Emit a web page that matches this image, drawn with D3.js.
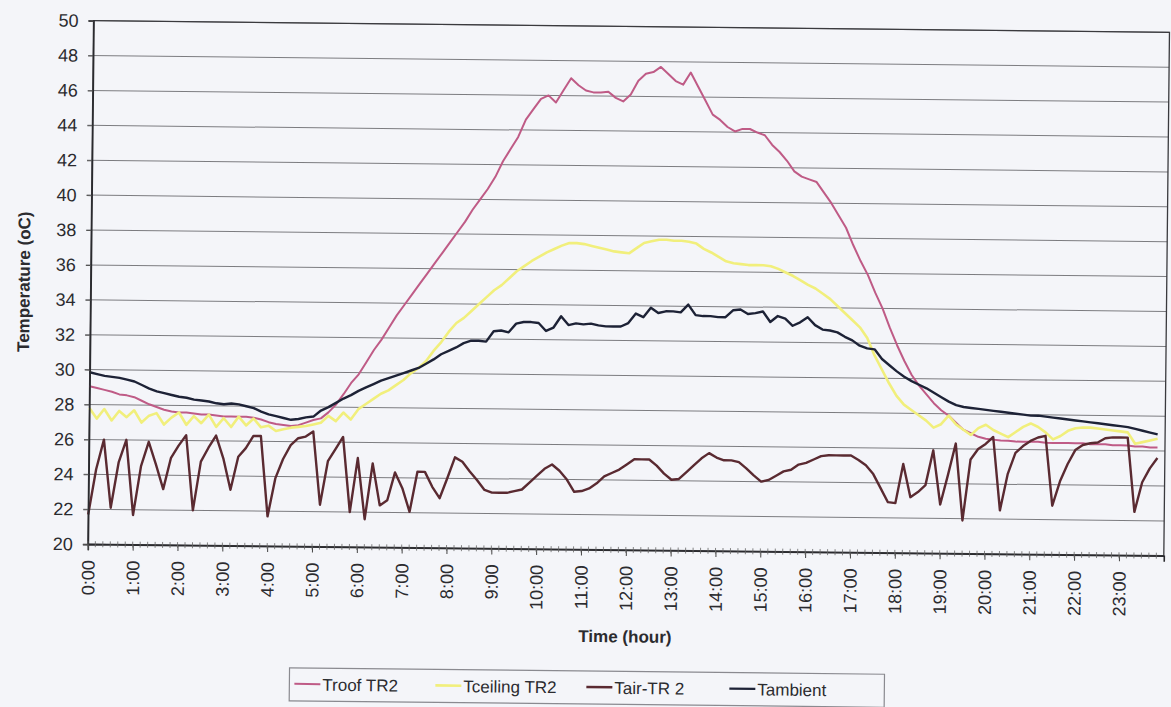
<!DOCTYPE html>
<html>
<head>
<meta charset="utf-8">
<script src="https://cdn.jsdelivr.net/npm/d3@7"></script>
<style>
  body { margin: 0; background: #f4f5f9; }
  svg { display: block; font-family: "Liberation Sans", Arial, sans-serif; }
</style>
</head>
<body>
<svg id="chart" width="1171" height="707"></svg>
<script>
// hour labels on the category axis
var hourLabels = ['0:00','1:00','2:00','3:00','4:00','5:00','6:00','7:00','8:00','9:00','10:00','11:00',
  '12:00','13:00','14:00','15:00','16:00','17:00','18:00','19:00','20:00','21:00','22:00','23:00'];

var seriesNames = ['Troof TR2', 'Tceiling TR2', 'Tair-TR 2', 'Tambient'];

// readings every 10 minutes, one row per hour
var tRoof = [
  29.05, 28.95, 28.85, 28.75, 28.6, 28.55,
  28.45, 28.25, 28.05, 27.9, 27.75, 27.65,
  27.6, 27.6, 27.55, 27.5, 27.5, 27.45,
  27.4, 27.4, 27.4, 27.4, 27.35, 27.25,
  27.1, 27.0, 26.95, 26.9, 26.95, 27.1,
  27.25, 27.35, 27.7, 28.15, 28.75, 29.4,
  29.9, 30.6, 31.3, 31.9, 32.6, 33.3,
  33.9, 34.5, 35.1, 35.7, 36.3, 36.9,
  37.5, 38.1, 38.7, 39.4, 40.0, 40.6,
  41.3, 42.2, 42.9, 43.6, 44.6, 45.2,
  45.8, 46.0, 45.6, 46.3, 47.0, 46.6,
  46.3, 46.2, 46.2, 46.25, 45.9, 45.7,
  46.1, 46.9, 47.3, 47.4, 47.7, 47.3,
  46.9, 46.7, 47.4, 46.6, 45.8, 45.0,
  44.7, 44.3, 44.05, 44.2, 44.2, 44.0,
  43.85, 43.3, 42.9, 42.4, 41.8, 41.5,
  41.35, 41.2, 40.6, 40.0, 39.3, 38.6,
  37.6, 36.7, 35.9, 34.9, 34.0, 32.9,
  31.9, 31.0, 30.2, 29.6, 29.1, 28.6,
  28.2, 27.9, 27.5, 27.1, 26.9, 26.7,
  26.6, 26.55, 26.5, 26.5, 26.45, 26.45,
  26.45, 26.45, 26.4, 26.4, 26.4, 26.4,
  26.4, 26.4, 26.35, 26.35, 26.35, 26.3,
  26.3, 26.3, 26.25, 26.25, 26.2, 26.2
];

var tCeiling = [
  27.8, 27.2, 27.75, 27.1, 27.65, 27.3,
  27.7, 27.0, 27.4, 27.55, 26.9, 27.3,
  27.6, 26.9, 27.4, 27.0, 27.5, 26.8,
  27.3, 26.8, 27.4, 26.9, 27.3, 26.8,
  26.9, 26.6, 26.7, 26.8, 26.85, 26.9,
  27.0, 27.1, 27.5, 27.2, 27.7, 27.3,
  27.9, 28.2, 28.5, 28.8, 29.0, 29.3,
  29.6, 30.0, 30.3, 30.7, 31.3, 31.8,
  32.4, 32.9, 33.2, 33.6, 34.0, 34.4,
  34.8, 35.1, 35.5, 35.9, 36.2, 36.5,
  36.75, 37.0, 37.2, 37.4, 37.55, 37.55,
  37.5, 37.4, 37.3, 37.2, 37.1, 37.05,
  37.0, 37.3, 37.6, 37.7, 37.8, 37.8,
  37.75, 37.75, 37.7, 37.6, 37.3, 37.1,
  36.85, 36.6, 36.5, 36.45, 36.4, 36.4,
  36.4, 36.35, 36.2, 36.0, 35.8, 35.55,
  35.3, 35.1, 34.8, 34.5, 34.1, 33.7,
  33.3, 32.9, 32.3, 31.3, 30.5, 29.7,
  29.0, 28.5, 28.2, 27.9, 27.6, 27.2,
  27.4, 27.9, 27.4, 27.1, 26.8, 27.2,
  27.4, 27.1, 26.9, 26.7, 27.0, 27.3,
  27.5, 27.3, 27.0, 26.6, 26.8, 27.1,
  27.25, 27.3, 27.3, 27.25, 27.2, 27.15,
  27.1, 27.05, 26.4, 26.5, 26.6, 26.7
];

var tAir = [
  21.7, 24.3, 26.0, 22.1, 24.7, 26.0,
  21.7, 24.5, 25.9, 24.6, 23.2, 25.0,
  25.7, 26.3, 22.0, 24.8, 25.6, 26.3,
  25.0, 23.2, 25.1, 25.6, 26.3, 26.3,
  21.7, 23.9, 25.0, 25.8, 26.2, 26.3,
  26.6, 22.4, 24.9, 25.6, 26.3, 22.0,
  25.1, 21.6, 24.8, 22.4, 22.7, 24.3,
  23.4, 22.05, 24.35, 24.35, 23.5, 22.85,
  24.0, 25.2, 24.95, 24.4, 23.9, 23.35,
  23.2, 23.2, 23.2, 23.3, 23.4, 23.8,
  24.2, 24.6, 24.85, 24.5, 24.0, 23.3,
  23.35, 23.5, 23.8, 24.2, 24.4, 24.6,
  24.9, 25.2, 25.2, 25.2, 24.85, 24.4,
  24.05, 24.1, 24.5, 24.9, 25.3, 25.6,
  25.35, 25.2, 25.2, 25.1, 24.75, 24.35,
  24.0, 24.1, 24.35, 24.6, 24.7, 25.0,
  25.1, 25.3, 25.5, 25.55, 25.55, 25.55,
  25.55, 25.3, 25.0, 24.5, 23.7, 22.9,
  22.85, 25.1, 23.2, 23.5, 23.9, 25.9,
  22.8, 24.5, 26.3, 21.9, 25.4, 26.0,
  26.3, 26.7, 22.5, 24.6, 25.8, 26.2,
  26.5, 26.7, 26.8, 22.8, 24.2, 25.2,
  26.0, 26.3, 26.4, 26.45, 26.7, 26.75,
  26.75, 26.75, 22.5, 24.2, 25.0, 25.6
];

var tAmbient = [
  29.85, 29.75, 29.65, 29.6, 29.55, 29.45,
  29.35, 29.15, 28.95, 28.8, 28.7, 28.6,
  28.5, 28.45, 28.35, 28.3, 28.25, 28.15,
  28.1, 28.15, 28.1, 28.0, 27.9, 27.7,
  27.55, 27.45, 27.35, 27.25, 27.3, 27.4,
  27.45, 27.8, 28.0, 28.25, 28.5, 28.7,
  28.95, 29.15, 29.35, 29.55, 29.7, 29.85,
  30.0, 30.15, 30.3, 30.55, 30.8, 31.1,
  31.3, 31.5, 31.75, 31.9, 31.9, 31.85,
  32.45, 32.5, 32.4, 32.9, 33.0, 33.0,
  32.95, 32.5, 32.7, 33.35, 32.85, 32.95,
  32.9, 32.95, 32.85, 32.8, 32.8, 32.8,
  33.0, 33.55, 33.35, 33.9, 33.6, 33.7,
  33.7, 33.65, 34.1, 33.5, 33.45, 33.45,
  33.4, 33.4, 33.8, 33.85, 33.6, 33.65,
  33.75, 33.15, 33.5, 33.35, 32.95, 33.15,
  33.45, 33.0, 32.75, 32.7, 32.6, 32.35,
  32.15, 31.85, 31.7, 31.65, 31.1, 30.75,
  30.4, 30.1, 29.85, 29.65, 29.45, 29.2,
  28.95, 28.7, 28.5, 28.4, 28.35, 28.3,
  28.25, 28.2, 28.15, 28.1, 28.05, 28.0,
  27.95, 27.95, 27.9, 27.85, 27.8, 27.75,
  27.7, 27.65, 27.6, 27.55, 27.5, 27.45,
  27.4, 27.35, 27.25, 27.15, 27.05, 26.95
];

var yTicks = [20, 22, 24, 26, 28, 30, 32, 34, 36, 38, 40, 42, 44, 46, 48, 50];

// BOUNDS (not named top/left: window.top is read only)
var plotLeft = 90, plotRight = 1166, plotTop = 26, plotBottom = 549.5;

// SCALE (x in hours, one sample every 10 minutes)
var xScale = d3.scaleLinear().domain([0, 24]).range([plotLeft, plotRight]);
var yScale = d3.scaleLinear().domain([20, 50]).range([plotBottom, plotTop]);

var series = [
  {name: seriesNames[0], values: tRoof, color: '#bf5b86', width: 2},
  {name: seriesNames[1], values: tCeiling, color: '#f1ef7c', width: 2.6},
  {name: seriesNames[2], values: tAir, color: '#5a2a31', width: 2.4},
  {name: seriesNames[3], values: tAmbient, color: '#1d2236', width: 2.4}
];

var svg = d3.select('#chart');
// the scan is tilted a little, so the whole chart is turned with it
var chart = svg.append('g').attr('transform', 'rotate(0.62, 585, 350)');

// grid lines
chart.append('g')
  .selectAll('line')
  .data(yTicks.slice(1))
  .enter().append('line')
  .attr('x1', plotLeft - 5).attr('x2', plotRight)
  .attr('y1', function(d) { return yScale(d); })
  .attr('y2', function(d) { return yScale(d); })
  .attr('stroke', '#7c7c80').attr('stroke-width', 1);

// frame
chart.append('rect')
  .attr('x', plotLeft).attr('y', plotTop)
  .attr('width', plotRight - plotLeft).attr('height', plotBottom - plotTop)
  .attr('fill', 'none').attr('stroke', '#3a3a3e').attr('stroke-width', 1.3);

// LINES
var line = d3.line()
  .x(function(d, i) { return xScale(i / 6); })
  .y(function(d) { return yScale(d); });

series.forEach(function(s) {
  chart.append('path')
    .attr('d', line(s.values))
    .attr('fill', 'none')
    .attr('stroke', s.color)
    .attr('stroke-width', s.width)
    .attr('stroke-linejoin', 'round');
});

// Y AXIS
var yAxis = d3.axisLeft(yScale).tickValues(yTicks).tickSize(5).tickPadding(10);
var yG = chart.append('g').attr('transform', 'translate(' + plotLeft + ',0)').call(yAxis);
yG.select('.domain').attr('stroke', '#2a2a2e').attr('stroke-width', 1.6);
yG.selectAll('.tick line').attr('stroke', '#555');
yG.selectAll('text').attr('font-size', 18).attr('fill', '#2b2b2f')
  .attr('font-family', '"Liberation Sans", Arial, sans-serif');

// X AXIS
var xAxis = d3.axisBottom(xScale)
  .tickValues(d3.range(hourLabels.length))
  .tickFormat(function(d) { return hourLabels[d]; })
  .tickSize(6);
var xG = chart.append('g').attr('transform', 'translate(0,' + plotBottom + ')').call(xAxis);
xG.select('.domain').attr('stroke', '#2a2a2e').attr('stroke-width', 1.6);
xG.selectAll('.tick line').attr('stroke', '#444');
xG.selectAll('text')
  .attr('font-size', 18).attr('fill', '#2b2b2f')
  .attr('font-family', '"Liberation Sans", Arial, sans-serif')
  .attr('transform', 'rotate(-90)')
  .attr('x', -16).attr('y', 0).attr('dy', '0.35em')
  .style('text-anchor', 'end');

// small category ticks, one per sample
chart.append('g')
  .selectAll('line')
  .data(tAir)
  .enter().append('line')
  .attr('x1', function(d, i) { return xScale(i / 6); })
  .attr('x2', function(d, i) { return xScale(i / 6); })
  .attr('y1', plotBottom - 3).attr('y2', plotBottom + 3)
  .attr('stroke', '#666').attr('stroke-width', 0.8);

// axis titles
chart.append('text')
  .attr('transform', 'translate(29,' + ((plotTop + plotBottom) / 2) + ') rotate(-90)')
  .attr('text-anchor', 'middle')
  .attr('font-size', 17).attr('font-weight', 'bold').attr('fill', '#2b2b2f')
  .text('Temperature (oC)');

chart.append('text')
  .attr('x', (plotLeft + plotRight) / 2).attr('y', 642)
  .attr('text-anchor', 'middle')
  .attr('font-size', 17).attr('font-weight', 'bold').attr('fill', '#2b2b2f')
  .text('Time (hour)');

// LEGEND
var legend = chart.append('g').attr('transform', 'translate(293,671)');
legend.append('rect')
  .attr('width', 595).attr('height', 33)
  .attr('fill', 'none').attr('stroke', '#8a8a90').attr('stroke-width', 1.2);

var legendX = [5, 146, 297, 440];
series.forEach(function(s, i) {
  var item = legend.append('g').attr('transform', 'translate(' + legendX[i] + ',0)');
  item.append('line')
    .attr('x1', 0).attr('x2', 26).attr('y1', 16).attr('y2', 16)
    .attr('stroke', s.color).attr('stroke-width', s.width);
  item.append('text')
    .attr('x', 28).attr('y', 22.5)
    .attr('font-size', 17).attr('fill', '#2b2b2f')
    .text(s.name);
});
</script>
</body>
</html>
